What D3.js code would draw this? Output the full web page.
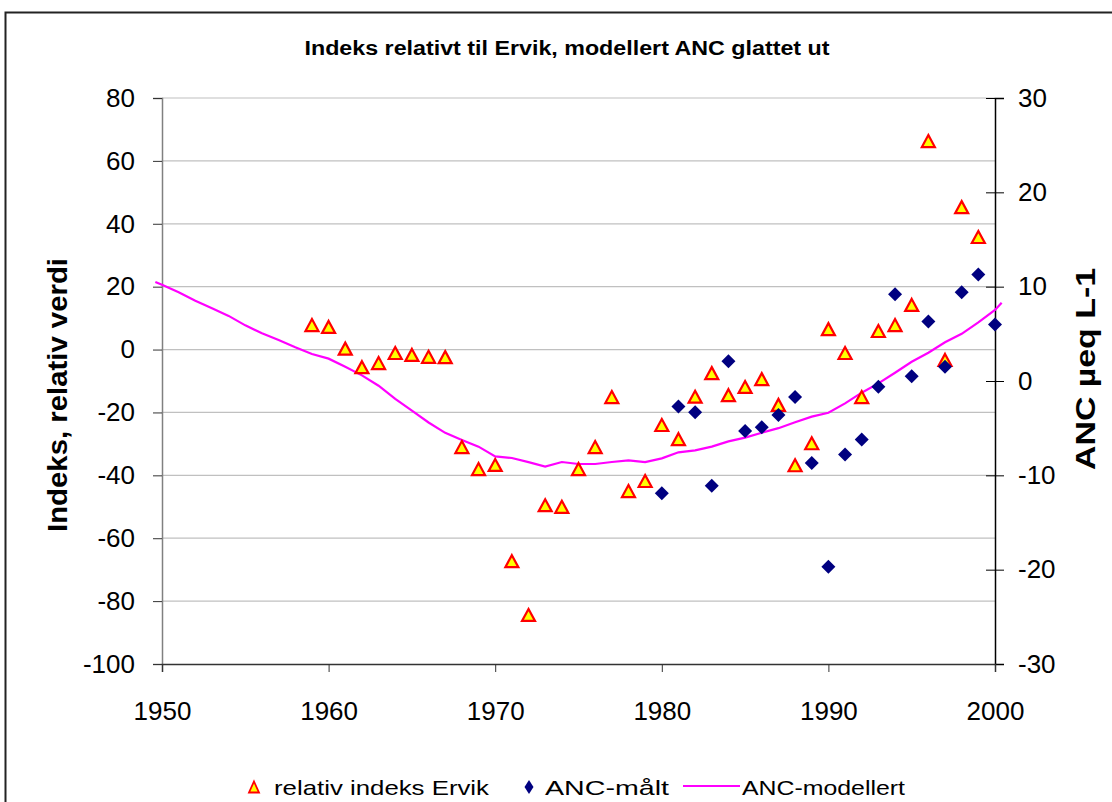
<!DOCTYPE html>
<html>
<head>
<meta charset="utf-8">
<script src="https://cdn.jsdelivr.net/npm/d3@7"></script>
<style>
  html, body { margin: 0; padding: 0; background: #fff; }
  svg { display: block; }
  text { font-family: "Liberation Sans", Arial, sans-serif; fill: #000; }
</style>
</head>
<body>
<svg id="chart" width="1112" height="802"></svg>
<script>
// ---------- data ----------
const triYears = [1959,1960,1961,1962,1963,1964,1965,1966,1967,1968,1969,1970,1971,1972,1973,1974,1975,1976,1977,1978,1979,1980,1981,1982,1983,1984,1985,1986,1987,1988,1989,1990,1991,1992,1993,1994,1995,1996,1997,1998,1999];
const triValues = [7.8,7.2,0.3,-5.6,-4.3,-1.1,-1.7,-2.3,-2.4,-31,-38,-36.7,-67.3,-84.4,-49.5,-50,-38,-31,-15.1,-45,-41.8,-24,-28.5,-15,-7.5,-14.5,-11.9,-9.4,-17.6,-36.8,-29.8,6.5,-1.1,-15.1,5.9,7.8,14.2,66.3,-3.3,45.3,35.8];

const ancYears = [1980,1981,1982,1983,1984,1985,1986,1987,1988,1989,1990,1991,1992,1993,1994,1995,1996,1997,1998,1999,2000];
const ancValues = [-11.9,-2.7,-3.3,-11.1,2.1,-5.3,-4.9,-3.6,-1.7,-8.7,-19.7,-7.8,-6.2,-0.6,9.2,0.5,6.3,1.5,9.4,11.3,6.0];

const modYears = [1949.6,1950,1951,1952,1953,1954,1955,1956,1957,1958,1959,1960,1961,1962,1963,1964,1965,1966,1967,1968,1969,1970,1971,1972,1973,1974,1975,1976,1977,1978,1979,1980,1981,1982,1983,1984,1985,1986,1987,1988,1989,1990,1991,1992,1993,1994,1995,1996,1997,1998,1999,2000,2000.4];
const modValues = [10.5,10.2,9.4,8.5,7.7,6.9,5.9,5.05,4.35,3.57,2.86,2.37,1.5,0.6,-0.5,-1.9,-3.15,-4.4,-5.5,-6.25,-6.96,-8.0,-8.16,-8.6,-9.08,-8.59,-8.8,-8.8,-8.59,-8.41,-8.6,-8.2,-7.56,-7.35,-6.96,-6.4,-6.0,-5.48,-5.0,-4.38,-3.78,-3.36,-2.37,-1.24,-0.25,0.88,2.04,3.0,4.1,5.0,6.22,7.53,8.3];

const xTicks = [1950,1960,1970,1980,1990,2000];
const leftTicks = [-100,-80,-60,-40,-20,0,20,40,60,80];
const rightTicks = [-30,-20,-10,0,10,20,30];

const titleText = "Indeks relativt til Ervik, modellert ANC glattet ut";
const leftTitle = "Indeks, relativ verdi";
const rightTitle = "ANC µeq L-1";
const legendLabels = ["relativ indeks Ervik", "ANC-målt", "ANC-modellert"];

// ---------- layout ----------
const svg = d3.select("#chart");
const X0 = 162, X1 = 995, Y0 = 98, Y1 = 664;
const fmt = d => String(d);

const x = d3.scaleLinear().domain([1950, 2000]).range([X0, X1]);
const yL = d3.scaleLinear().domain([-100, 80]).range([Y1, Y0]);
const yR = d3.scaleLinear().domain([-30, 30]).range([Y1, Y0]);

// outer border
svg.append("rect").attr("x", 5.5).attr("y", 12.5).attr("width", 1200).attr("height", 900)
  .attr("fill", "none").attr("stroke", "#222").attr("stroke-width", 2);

// title
svg.append("text").attr("x", 567).attr("y", 55).attr("text-anchor", "middle")
  .attr("font-size", 20).attr("font-weight", "bold")
  .attr("textLength", 525).attr("lengthAdjust", "spacingAndGlyphs")
  .text(titleText);

// gridlines
svg.append("g").selectAll("line").data(leftTicks.filter(d => d > -100)).join("line")
  .attr("x1", X0).attr("x2", X1).attr("y1", d => yL(d)).attr("y2", d => yL(d))
  .attr("stroke", "#c0c0c0").attr("stroke-width", 1.2);

// left axis
const gL = svg.append("g").attr("transform", `translate(${X0},0)`)
  .call(d3.axisLeft(yL).tickValues(leftTicks).tickSize(9).tickPadding(18).tickFormat(fmt));
gL.select(".domain").attr("stroke", "#808080").attr("stroke-width", 1.5);
gL.selectAll(".tick line").attr("stroke", "#333");
gL.selectAll(".tick text").attr("font-size", 26).attr("font-family", "Liberation Sans, Arial, sans-serif");

// right axis
const gR = svg.append("g").attr("transform", `translate(${X1},0)`)
  .call(d3.axisRight(yR).tickValues(rightTicks).tickSize(9).tickPadding(14).tickFormat(fmt));
gR.select(".domain").attr("stroke", "#000").attr("stroke-width", 1.5);
gR.selectAll(".tick line").attr("stroke", "#000").attr("x1", -9);
gR.selectAll(".tick text").attr("font-size", 26).attr("font-family", "Liberation Sans, Arial, sans-serif");

// bottom axis
const gB = svg.append("g").attr("transform", `translate(0,${Y1})`)
  .call(d3.axisBottom(x).tickValues(xTicks).tickSize(8).tickPadding(30).tickFormat(fmt));
gB.select(".domain").attr("stroke", "#333").attr("stroke-width", 1.5);
gB.selectAll(".tick line").attr("stroke", "#333");
gB.selectAll(".tick text").attr("font-size", 26).attr("font-family", "Liberation Sans, Arial, sans-serif");

// axis titles
svg.append("text").attr("transform", "translate(67,395) rotate(-90)").attr("text-anchor", "middle")
  .attr("font-size", 27).attr("font-weight", "bold")
  .attr("textLength", 274).attr("lengthAdjust", "spacingAndGlyphs").text(leftTitle);
svg.append("text").attr("transform", "translate(1095,369) rotate(-90)").attr("text-anchor", "middle")
  .attr("font-size", 27).attr("font-weight", "bold")
  .attr("textLength", 202).attr("lengthAdjust", "spacingAndGlyphs").text(rightTitle);

// modelled line
const line = d3.line().x((d, i) => x(modYears[i])).y(d => yR(d));
svg.append("path").datum(modValues).attr("d", line)
  .attr("fill", "none").attr("stroke", "#ff00ff").attr("stroke-width", 2.2);

// markers
const triPath = (w, h) => `M0,${-h/2}L${w/2},${h/2}L${-w/2},${h/2}Z`;
const diaPath = (w, h) => `M0,${-h/2}L${w/2},0L0,${h/2}L${-w/2},0Z`;

svg.append("g").selectAll("path").data(triValues).join("path")
  .attr("transform", (d, i) => `translate(${x(triYears[i])},${yL(d)})`)
  .attr("d", triPath(13, 12))
  .attr("fill", "#ffff00").attr("stroke", "#ff0000").attr("stroke-width", 2.2)
  .attr("stroke-linejoin", "miter");

svg.append("g").selectAll("path").data(ancValues).join("path")
  .attr("transform", (d, i) => `translate(${x(ancYears[i])},${yR(d)})`)
  .attr("d", diaPath(14, 14))
  .attr("fill", "#000080");

// legend
const lg = svg.append("g");
lg.append("path").attr("transform", "translate(254,787)").attr("d", triPath(10, 11))
  .attr("fill", "#ffff00").attr("stroke", "#ff0000").attr("stroke-width", 1.8);
lg.append("text").attr("x", 274).attr("y", 795).attr("font-size", 21)
  .attr("textLength", 215).attr("lengthAdjust", "spacingAndGlyphs").text(legendLabels[0]);
lg.append("path").attr("transform", "translate(529,787)").attr("d", diaPath(9, 14)).attr("fill", "#000080");
lg.append("text").attr("x", 545).attr("y", 795).attr("font-size", 21)
  .attr("textLength", 124).attr("lengthAdjust", "spacingAndGlyphs").text(legendLabels[1]);
lg.append("line").attr("x1", 683).attr("x2", 740).attr("y1", 786).attr("y2", 786)
  .attr("stroke", "#ff00ff").attr("stroke-width", 2.2);
lg.append("text").attr("x", 742).attr("y", 795).attr("font-size", 21)
  .attr("textLength", 163).attr("lengthAdjust", "spacingAndGlyphs").text(legendLabels[2]);
</script>
</body>
</html>
